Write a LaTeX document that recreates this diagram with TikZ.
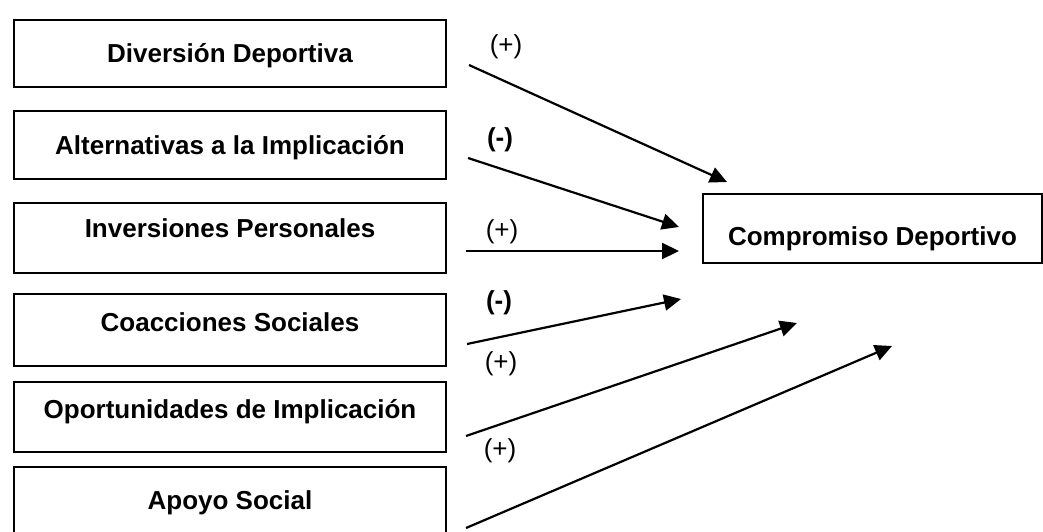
\documentclass[tikz,border=0pt]{standalone}
\usepackage{fontspec}
\setmainfont{Liberation Sans}
\usetikzlibrary{arrows.meta}

\begin{document}
\begin{tikzpicture}[x=1pt,y=-1pt,
        factor/.style={draw, line width=2.2pt, inner sep=0pt, minimum width=432pt,
            font=\fontsize{26}{30}\selectfont\bfseries, text height=19pt},
        plus/.style={inner sep=0pt, font=\fontsize{26}{30}\selectfont},
        minus/.style={inner sep=0pt, font=\fontsize{26}{30}\selectfont\bfseries},
        link/.style={line width=2.2pt, -{Triangle[length=17pt,width=16pt]}}]
    \useasboundingbox (0,0) rectangle (1043,532);
    % left column
    \node[factor, minimum height=67pt, text depth=0.5pt] (diversion) at (230,53.5) {Diversión Deportiva};
    \node[factor, minimum height=68pt, text depth=0.5pt] (alternativas) at (230,145) {Alternativas a la Implicación};
    \node[factor, minimum height=70pt, text depth=20.5pt] (inversiones) at (230,238) {Inversiones Personales};
    \node[factor, minimum height=72pt, text depth=16.5pt] (coacciones) at (230,330) {Coacciones Sociales};
    \node[factor, minimum height=70pt, text depth=16.5pt] (oportunidades) at (230,417) {Oportunidades de Implicación};
    \node[factor, minimum height=70pt, text depth=4.5pt] (apoyo) at (230,502) {Apoyo Social};
    % right box
    \node[factor, minimum width=339pt, minimum height=69pt, text height=34pt, text depth=0.5pt] (compromiso) at (872.5,228.5) {Compromiso Deportivo};
    % arrows
    \foreach \i/\sx/\sy/\tx/\ty in {1/469/65/727/182, 2/468/158/679/227, 3/466/251/679/251,
                                    4/467/344/681/299, 5/466/436/797/323, 6/466/528/892/346}
        {
            \coordinate (s\i) at (\sx,\sy);
            \coordinate (t\i) at (\tx,\ty);
            \draw[link] (s\i) -- (t\i);
        }
    % signs
    \node[plus] (sign1) at (506,47) {(+)};
    \node[minus] (sign2) at (500,140) {(-)};
    \node[plus] (sign3) at (502,232) {(+)};
    \node[minus] (sign4) at (499,303) {(-)};
    \node[plus] (sign5) at (501,364) {(+)};
    \node[plus] (sign6) at (500,451) {(+)};
\end{tikzpicture}
\end{document}
